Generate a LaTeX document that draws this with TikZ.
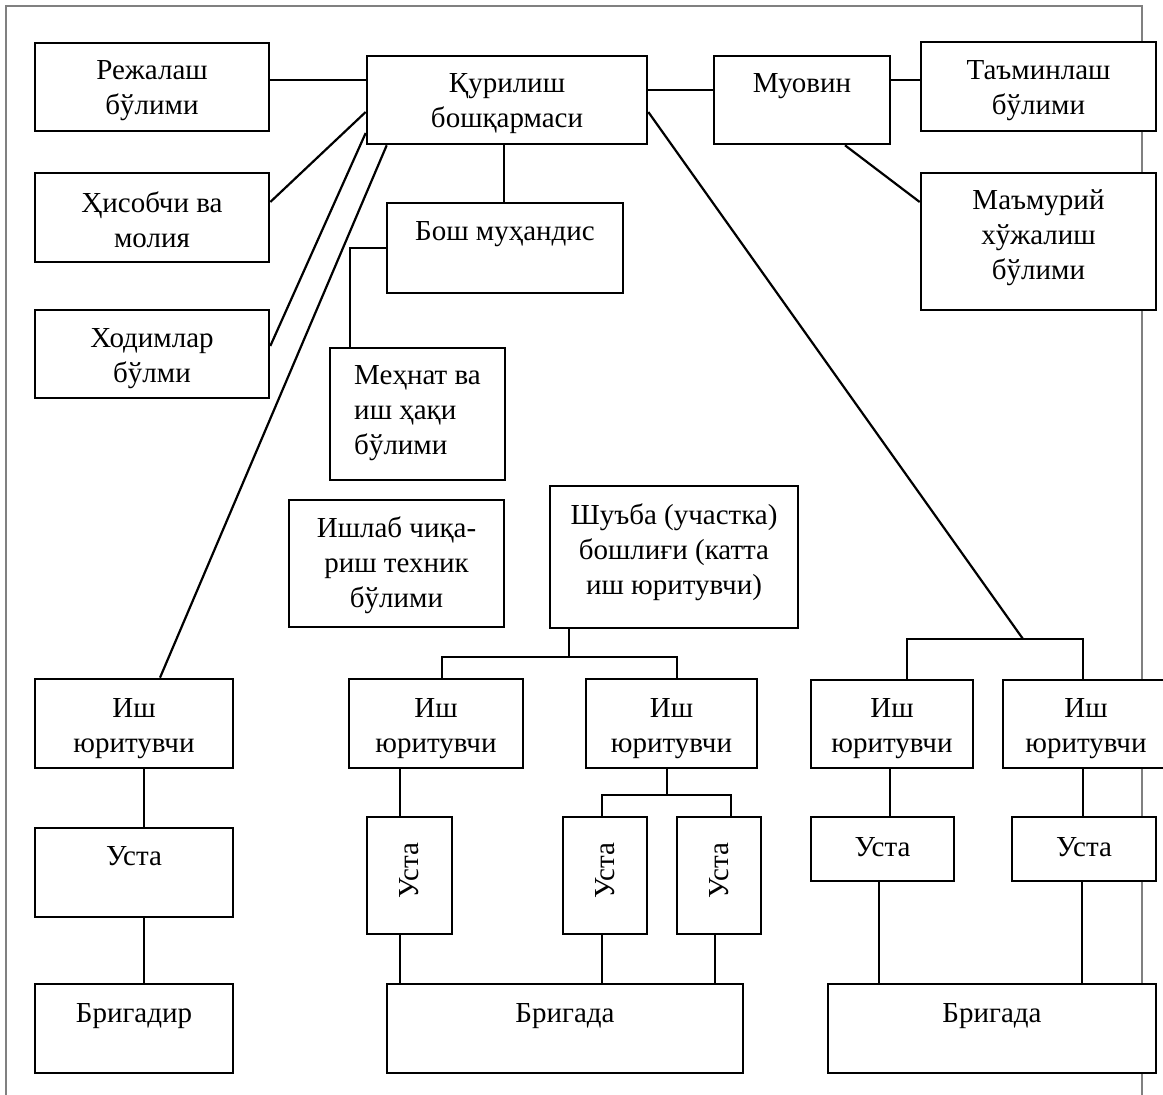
\documentclass[tikz,border=0pt]{standalone}
\usepackage{graphicx}
\usepackage{fontspec}
\setmainfont{Liberation Serif}
\tikzset{textdrop/.store in=\tdrop, textdrop=3pt}
\newcommand\mkbox[7][]{\node[box,minimum width={(#5-#3)*1pt},minimum height={(#6-#4)*1pt},#1] (#2) at ({(#3+#5)/2},{(#4+#6)/2}) {\raisebox{-\tdrop}[\height][\depth]{\begin{tabular}{@{}c@{}}#7\end{tabular}}};}
\begin{document}
\begin{tikzpicture}[x=1pt,y=-1pt,
  box/.style={draw, line width=2.6pt, fill=white, inner sep=0pt, font=\fontsize{29}{35}\selectfont, textdrop=3pt},
  conn/.style={line width=2.2pt},
  frame/.style={line width=1.3pt, draw=black!50}]
\useasboundingbox (0,0) rectangle (1163,1095);
\draw[frame] (6,1095) -- (6,6) -- (1142,6) -- (1142,1095);

% top level
\mkbox[textdrop=2.5pt]{reja}{35}{43}{269}{131}{Режалаш\\бўлими}
\mkbox[textdrop=2.5pt]{qur}{367}{56}{647}{144}{Қурилиш\\бошқармаси}
\mkbox[textdrop=2.5pt]{muo}{714}{56}{890}{144}{Муовин\\~}
\mkbox[textdrop=3pt]{tam}{921}{42}{1156}{131}{Таъминлаш\\бўлими}
\mkbox[textdrop=5pt]{his}{35}{173}{269}{262}{Ҳисобчи ва\\молия}
\mkbox[textdrop=2.5pt]{bosh}{387}{203}{623}{293}{Бош муҳандис\\~}
\mkbox[textdrop=-4.5pt]{mam}{921}{173}{1156}{310}{Маъмурий\\хўжалиш\\бўлими}
\mkbox[textdrop=3.5pt]{xod}{35}{310}{269}{398}{Ходимлар\\бўлми}
\node[box,minimum width=175pt,minimum height=132pt] (mex) at (417.5,414)
  {\raisebox{2pt}[\height][\depth]{\begin{tabular}{@{}l@{}}Меҳнат ва\\иш ҳақи\\бўлими\end{tabular}}};
\mkbox[textdrop=1.5pt]{ishlab}{289}{500}{504}{627}{Ишлаб чиқа-\\риш техник\\бўлими}
\mkbox[textdrop=-5pt]{shu}{550}{486}{798}{628}{Шуъба (участка)\\бошлиғи (катта\\иш юритувчи)}

% work managers
\mkbox[textdrop=4pt]{ish1}{35}{679}{233}{768}{Иш\\юритувчи}
\mkbox[textdrop=4pt]{ish2}{349}{679}{523}{768}{Иш\\юритувчи}
\mkbox[textdrop=4pt]{ish3}{586}{679}{757}{768}{Иш\\юритувчи}
\mkbox[textdrop=4pt]{ish4}{811}{680}{973}{768}{Иш\\юритувчи}
\mkbox[textdrop=4pt]{ish5}{1003}{680}{1169}{768}{Иш\\юритувчи}

% masters
\mkbox[textdrop=3pt]{usta1}{35}{828}{233}{917}{Уста\\~}
\mkbox[textdrop=0pt]{usta2}{367}{817}{452}{934}{\rotatebox{90}{Уста}}
\mkbox[textdrop=0pt]{usta3}{563}{817}{647}{934}{\rotatebox{90}{Уста}}
\mkbox[textdrop=0pt]{usta4}{677}{817}{761}{934}{\rotatebox{90}{Уста}}
\mkbox[textdrop=0pt]{usta5}{811}{817}{954}{881}{Уста}
\mkbox[textdrop=0pt]{usta6}{1012}{817}{1156}{881}{Уста}

% brigades
\mkbox[textdrop=4pt]{brigadir}{35}{984}{233}{1073}{Бригадир\\~}
\mkbox[textdrop=4pt]{brig1}{387}{984}{743}{1073}{Бригада\\~}
\mkbox[textdrop=4pt]{brig2}{828}{984}{1156}{1073}{Бригада\\~}

\coordinate (j1) at (1023,639);
\coordinate (j2) at (569,657);
\coordinate (j3) at (667,795);

% connectors
\draw[conn] ([yshift=7pt]reja.east) -- ([yshift=20pt]qur.west);
\draw[conn] ([yshift=15.5pt]his.east) -- ([yshift=-12pt]qur.west);
\draw[conn] ([yshift=8pt]xod.east) -- ([yshift=-33pt]qur.west);
\draw[conn] ([xshift=21pt]qur.south west) -- ([xshift=26pt]ish1.north);
\draw[conn] ([xshift=-3pt]qur.south) -- ([xshift=-1pt]bosh.north);
\draw[conn] (bosh.west) -| ([xshift=-67.5pt]mex.north);
\draw[conn] ([yshift=10pt]qur.east) -- ([yshift=10pt]muo.west);
\draw[conn] ([yshift=20pt]muo.east) -- ([yshift=6.5pt]tam.west);
\draw[conn] ([xshift=43pt]muo.south) -- ([yshift=39.5pt]mam.west);

\draw[conn] ([yshift=-12pt]qur.east) -- (j1);
\draw[conn] ([xshift=15pt]ish4.north) |- (j1) -| ([xshift=-3pt]ish5.north);

\draw[conn] ([xshift=-105pt]shu.south) -- (j2);
\draw[conn] ([xshift=6pt]ish2.north) |- (j2) -| ([xshift=5.5pt]ish3.north);

\draw[conn] ([xshift=10pt]ish1.south) -- ([xshift=10pt]usta1.north);
\draw[conn] ([xshift=10pt]usta1.south) -- ([xshift=10pt]brigadir.north);

\draw[conn] ([xshift=-36pt]ish2.south) -- ([xshift=-9.5pt]usta2.north);
\draw[conn] ([xshift=-9.5pt]usta2.south) -- ([xshift=-165pt]brig1.north);

\draw[conn] ([xshift=-4.5pt]ish3.south) -- (j3);
\draw[conn] ([xshift=-3pt]usta3.north) |- (j3) -| ([xshift=12pt]usta4.north);
\draw[conn] ([xshift=-3pt]usta3.south) -- ([xshift=37pt]brig1.north);
\draw[conn] ([xshift=-4pt]usta4.south) -- ([xshift=150pt]brig1.north);

\draw[conn] ([xshift=-2pt]ish4.south) -- ([xshift=7.5pt]usta5.north);
\draw[conn] ([xshift=-3.5pt]usta5.south) -- ([xshift=-113pt]brig2.north);
\draw[conn] ([xshift=-3pt]ish5.south) -- ([xshift=-1pt]usta6.north);
\draw[conn] ([xshift=-2pt]usta6.south) -- ([xshift=90pt]brig2.north);
\end{tikzpicture}
\end{document}
